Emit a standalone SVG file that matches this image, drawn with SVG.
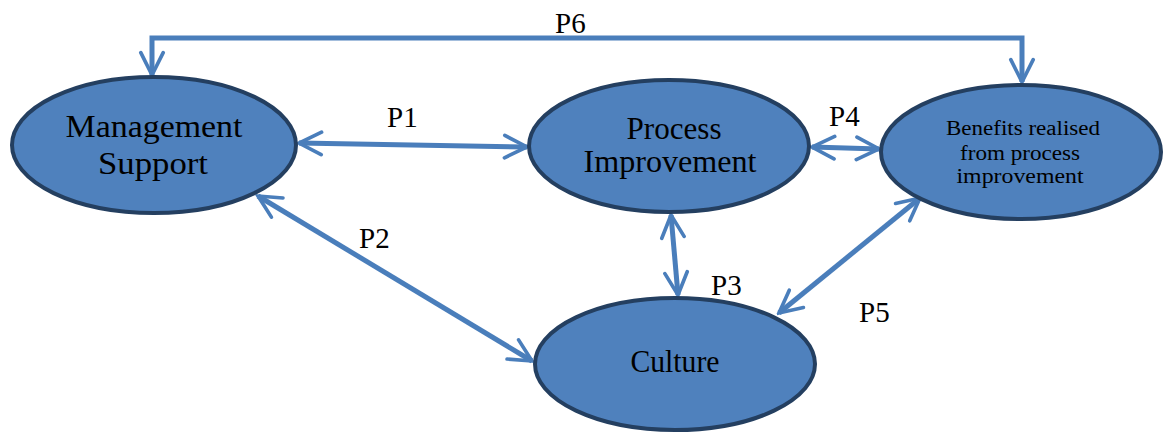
<svg xmlns="http://www.w3.org/2000/svg" width="1165" height="432" viewBox="0 0 1165 432">
<style>
.node{fill:#4f81bd;stroke:#243f60;stroke-width:4}
text{font-family:'Liberation Serif','Times New Roman',Times,serif;fill:#000}
.nt{font-size:31px;text-anchor:middle}
.st{font-size:20px;text-anchor:middle}
.c{fill:none;stroke:#4a7ebb;stroke-width:5}
.pl{font-size:29px}
</style>
<defs>
<marker id="ah" viewBox="0 0 10 10" refX="9" refY="5" markerWidth="5.6" markerHeight="5.6" orient="auto-start-reverse" markerUnits="strokeWidth">
<path d="M1,1 L9,5 L1,9" fill="none" stroke="#4a7ebb" stroke-width="1.3" stroke-linecap="round"/>
</marker>
</defs>
<g id="connectors">
<path class="c" d="M152,75 L152,38 L1022,38 L1022,82" marker-start="url(#ah)" marker-end="url(#ah)"/>
<path class="c" d="M299,143 L527,147" marker-start="url(#ah)" marker-end="url(#ah)"/>
<path class="c" d="M812,147 L879,149" marker-start="url(#ah)" marker-end="url(#ah)"/>
<path class="c" d="M258,196 L532,361" marker-start="url(#ah)" marker-end="url(#ah)"/>
<path class="c" d="M671,215 L678,295" marker-start="url(#ah)" marker-end="url(#ah)"/>
<path class="c" d="M920,198 L779,313" marker-start="url(#ah)" marker-end="url(#ah)"/>
<text class="pl" x="555" y="33">P6</text>
<text class="pl" x="387" y="127">P1</text>
<text class="pl" x="829" y="126">P4</text>
<text class="pl" x="359" y="248">P2</text>
<text class="pl" x="711" y="295">P3</text>
<text class="pl" x="859" y="322">P5</text>
</g>
<g id="management-support">
<ellipse class="node" cx="154" cy="145" rx="142" ry="68"/>
<text class="nt" x="154" y="137" textLength="177" lengthAdjust="spacingAndGlyphs">Management</text>
<text class="nt" x="153" y="174" textLength="110" lengthAdjust="spacingAndGlyphs">Support</text>
</g>
<g id="process-improvement">
<ellipse class="node" cx="669" cy="146" rx="140" ry="66"/>
<text class="nt" x="674" y="139" textLength="95" lengthAdjust="spacingAndGlyphs">Process</text>
<text class="nt" x="670" y="172" textLength="173" lengthAdjust="spacingAndGlyphs">Improvement</text>
</g>
<g id="benefits">
<ellipse class="node" cx="1021" cy="152" rx="140" ry="67"/>
<text class="st" x="1023" y="135" textLength="154" lengthAdjust="spacingAndGlyphs">Benefits realised</text>
<text class="st" x="1020" y="160" textLength="120" lengthAdjust="spacingAndGlyphs">from process</text>
<text class="st" x="1020" y="183" textLength="127" lengthAdjust="spacingAndGlyphs">improvement</text>
</g>
<g id="culture">
<ellipse class="node" cx="675" cy="364" rx="140" ry="66"/>
<text class="nt" x="675" y="372" textLength="89" lengthAdjust="spacingAndGlyphs">Culture</text>
</g>
</svg>
